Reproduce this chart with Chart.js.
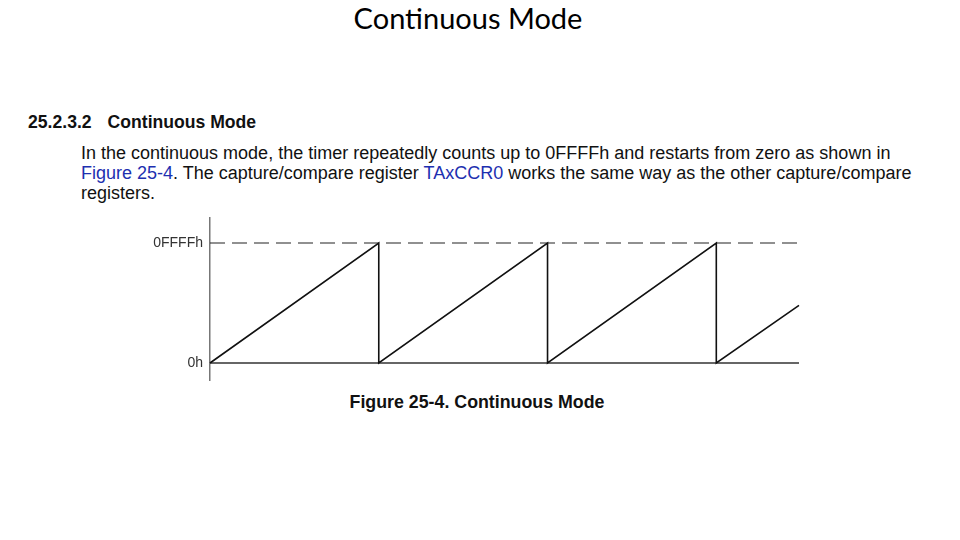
<!DOCTYPE html>
<html>
<head>
<meta charset="utf-8">
<script src="https://cdn.jsdelivr.net/npm/chart.js@4"></script>
<style>
  body { margin: 0; background: #fff; width: 960px; height: 540px; position: relative; overflow: hidden; }
  .t { position: absolute; white-space: nowrap; color: #111; }
  #title { left: 0; width: 936px; top: 0px; text-align: center; font-family: Lato, "Open Sans", sans-serif; font-size: 29px; color: #000; }
  #head { left: 28px; top: 112px; font-family: "Liberation Sans", Arial, sans-serif; font-weight: bold; font-size: 17.6px; }
  #head span { margin-left: 16px; }
  #para { left: 81px; top: 143px; font-family: "Liberation Sans", Arial, sans-serif; font-size: 18px; line-height: 20px; }
  .lnk { color: #1d2fb0; }
  #cap { left: 0; width: 954px; top: 392px; text-align: center; font-family: "Liberation Sans", Arial, sans-serif; font-weight: bold; font-size: 17.8px; }
  #wrap { position: absolute; left: 140px; top: 210px; width: 662px; height: 180px; }
</style>
</head>
<body>
<div class="t" id="title">Continuous Mode</div>
<div class="t" id="head">25.2.3.2<span>Continuous Mode</span></div>
<div class="t" id="para">In the continuous mode, the timer repeatedly counts up to 0FFFFh and restarts from zero as shown in<br><span class="lnk">Figure 25-4</span>. The capture/compare register <span class="lnk">TAxCCR0</span> works the same way as the other capture/compare<br>registers.</div>
<div id="wrap"><canvas id="myChart"></canvas></div>
<div class="t" id="cap">Figure 25-4. Continuous Mode</div>
<script>
// sawtooth counter, x in timer periods
const sawX = [0, 1, 1, 2, 2, 3, 3, 3.49];
const sawY = [0, 65535, 0, 65535, 0, 65535, 0, 31500];
const xEnd = 3.49;
const tickVals = [0, 65535];
const tickLabels = ['0h', '0FFFFh'];

var pts = [];
for (let i = 0; i < sawX.length; i++) {
    pts.push({x: sawX[i], y: sawY[i]});
}

const data = {
    datasets: [{
        label: 'counter',
        data: pts,
        borderColor: '#111',
        borderWidth: 1.6,
        pointRadius: 0,
        clip: false
    }, {
        label: 'zero',
        data: [{x: 0, y: 0}, {x: xEnd, y: 0}],
        borderColor: '#666',
        borderWidth: 2,
        pointRadius: 0,
        clip: false
    }, {
        label: 'max',
        data: [{x: 0, y: 65535}, {x: xEnd, y: 65535}],
        borderColor: '#222',
        borderWidth: 1.2,
        borderDash: [15, 7],
        pointRadius: 0,
        clip: false
    }]
};

const config = {
    type: 'line',
    data,
    options: {
        animation: false,
        responsive: true,
        maintainAspectRatio: false,
        layout: { padding: { top: 8, bottom: 10, right: 3 } },
        plugins: { legend: { display: false }, tooltip: { enabled: false } },
        scales: {
            x: {
                type: 'linear',
                min: 0,
                max: xEnd,
                display: false
            },
            y: {
                min: -9284,
                max: 79188,
                grid: { display: false, drawTicks: false },
                border: { display: true, color: '#777', width: 1.5 },
                afterFit: function(axis) {
                    axis.width = 70;
                    axis.paddingTop = 0;
                    axis.paddingBottom = 0;
                },
                afterBuildTicks: function(axis) {
                    axis.ticks = tickVals.map(v => ({value: v}));
                },
                ticks: {
                    padding: 7,
                    color: '#333',
                    font: { family: 'Liberation Sans', size: 14 },
                    callback: function(v) { return tickLabels[tickVals.indexOf(v)]; }
                }
            }
        }
    }
};

var myChart = new Chart(document.getElementById('myChart'), config);
</script>
</body>
</html>
